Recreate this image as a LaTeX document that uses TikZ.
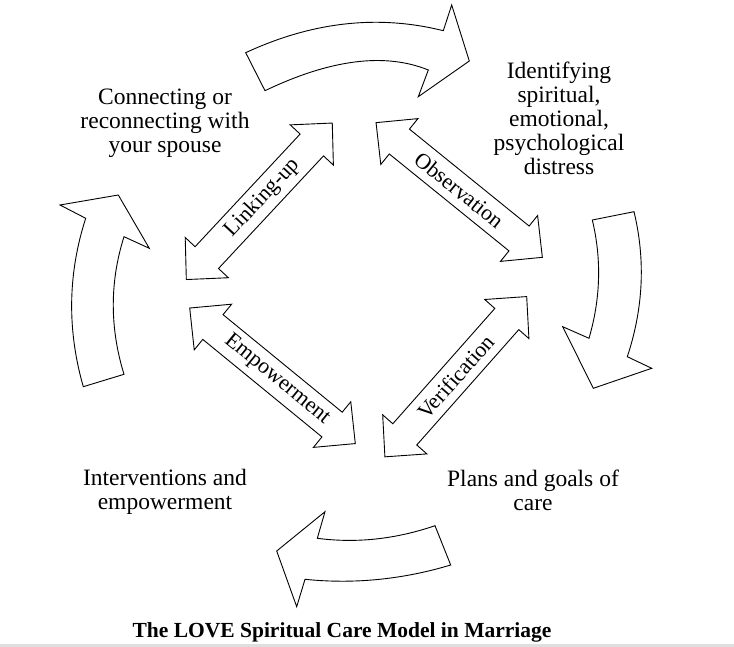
\documentclass[tikz,border=0pt]{standalone}
\usepackage{fontspec}
\setmainfont{Liberation Serif}
\tikzset{
  shapeline/.style={draw=black, line width=0.9pt, fill=white, line join=miter},
  lbl/.style={font=\fontsize{23.5}{24}\selectfont, align=center, inner sep=0pt},
  arrowlbl/.style={font=\fontsize{22}{24}\selectfont, inner sep=0pt},
  ttl/.style={font=\bfseries\fontsize{21.5}{24}\selectfont, inner sep=0pt}
}
\newcommand\DblArrow[6]{%
  \begin{scope}[shift={(#2,#3)},rotate=#4]
    \draw[shapeline] (-107,0) -- (-77,29.5) -- (-77,16) -- (77,16) -- (77,29.5) -- (107,0)
      -- (77,-29.5) -- (77,-16) -- (-77,-16) -- (-77,-29.5) -- cycle;
    \node[arrowlbl,rotate=#4] (#1) at (#6,0) {#5};
  \end{scope}}
\begin{document}
\begin{tikzpicture}[x=1pt,y=-1pt]
\useasboundingbox (0,0) rectangle (734,647);
\fill[gray!25] (0,644) rectangle (734,647);

% top curved arrow (pointing right)
\draw[shapeline] (245.7,52.7) .. controls (312.2,21.8) and (378.1,14.4) .. (443.3,30.7)
  -- (451.7,5) -- (469.3,61) -- (418.3,96.7) -- (428.3,70)
  .. controls (385,52.4) and (330.6,59.3) .. (265,90.7) -- cycle;

% right curved arrow (pointing down)
\draw[shapeline] (592.3,220) -- (634,211.7) .. controls (645.6,259.8) and (643.4,308.1) .. (627.3,356.7)
  -- (651.7,368.3) -- (593.3,388.3) -- (562.7,326.7) -- (589,338.3)
  .. controls (600.6,298.6) and (601.7,259.2) .. (592.3,220) -- cycle;

% bottom curved arrow (pointing left)
\draw[shapeline] (435,525.7) .. controls (395.5,539.2) and (356.3,543.4) .. (317.3,538.3)
  -- (325,511.7) -- (276.7,551) -- (296.7,606.7) -- (305,579.3)
  .. controls (353.8,584.3) and (402.4,579.5) .. (450.7,565) -- cycle;

% left curved arrow (pointing up)
\draw[shapeline] (83.3,386.7) .. controls (67,329.9) and (67.8,273.8) .. (85.7,218.3)
  -- (60,205) -- (118.3,195) -- (149.3,248.3) -- (124,236.7)
  .. controls (109.7,281.9) and (109.7,327.8) .. (124,374.3) -- cycle;

% inner double arrows
\DblArrow{link}{259.3}{201.3}{47}{Linking-up}{5}
\DblArrow{obs}{459.2}{190}{-39}{Observation}{0}
\DblArrow{emp}{272.5}{375.8}{-39.3}{Empowerment}{6}
\DblArrow{ver}{455.8}{376.7}{48.5}{Verification}{0}

% texts
\node[lbl] (connect) at (165,123) {Connecting or\\reconnecting with\\your spouse};
\node[lbl] (identify) at (559,118) {Identifying\\spiritual,\\emotional,\\psychological\\distress};
\node[lbl] (interv) at (165,492) {Interventions and\\empowerment};
\node[lbl] (plans) at (533,490) {Plans and goals of\\care};
\node[ttl] (title) at (342,632) {The LOVE Spiritual Care Model in Marriage};
\end{tikzpicture}
\end{document}
